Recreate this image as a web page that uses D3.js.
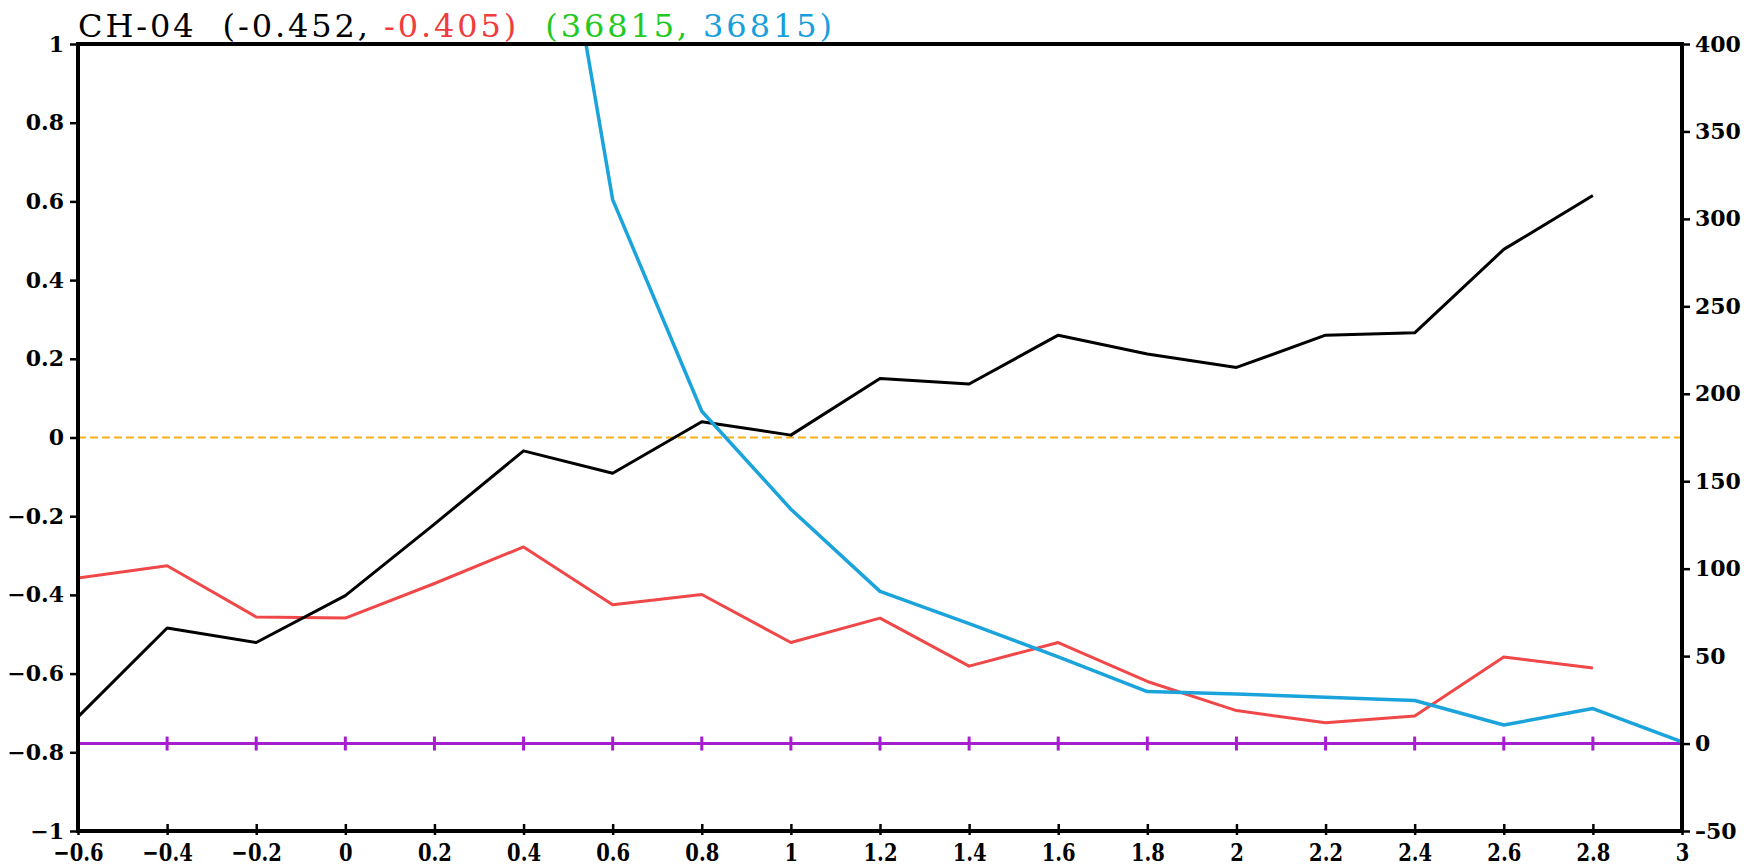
<!DOCTYPE html>
<html>
<head>
<meta charset="utf-8">
<script src="https://cdn.jsdelivr.net/npm/d3@7"></script>
<style>
  html, body { margin: 0; padding: 0; background: #fff; }
  svg { display: block; }
  .tick text { font-family: "DejaVu Serif", serif; font-weight: bold; fill: #000; }
</style>
</head>
<body>
<svg id="chart" width="1744" height="866"></svg>
<script>
// x positions shared by all series
const xValues = [-0.6, -0.4, -0.2, 0, 0.2, 0.4, 0.6, 0.8, 1.0, 1.2, 1.4, 1.6, 1.8, 2.0, 2.2, 2.4, 2.6, 2.8, 3.0];

// correlation series (left axis)
const blackSeries = [-0.71, -0.484, -0.521, -0.402, -0.22, -0.034, -0.091, 0.04, 0.006, 0.15, 0.136, 0.26, 0.212, 0.178, 0.26, 0.266, 0.478, 0.615, null];
const redSeries   = [-0.357, -0.326, -0.456, -0.459, -0.371, -0.278, -0.425, -0.399, -0.521, -0.459, -0.581, -0.521, -0.62, -0.694, -0.725, -0.708, -0.558, -0.586, null];

// sample counts (right axis)
const blueSeries  = [null, null, null, null, null, 608, 311, 190, 134, 87, 68.6, 49.5, 29.7, 28.4, 26.5, 24.6, 10.6, 20, 1];

// axis ticks
const xTicks = [-0.6, -0.4, -0.2, 0, 0.2, 0.4, 0.6, 0.8, 1, 1.2, 1.4, 1.6, 1.8, 2, 2.2, 2.4, 2.6, 2.8, 3];
const leftTicks = [-1, -0.8, -0.6, -0.4, -0.2, 0, 0.2, 0.4, 0.6, 0.8, 1];
const rightTicks = [-50, 0, 50, 100, 150, 200, 250, 300, 350, 400];

// title pieces
const titleParts = [
  { text: "CH-04  (-0.452, ", color: "#000000" },
  { text: "-0.405)", color: "#f03c3c" },
  { text: "  (36815, ", color: "#22c922" },
  { text: "36815)", color: "#1a9fdc" }
];

const svg = d3.select("#chart");
const plot = { left: 78, right: 1682, top: 44, bottom: 831 };

const x = d3.scaleLinear().domain([-0.6, 3]).range([plot.left, plot.right]);
const yL = d3.scaleLinear().domain([-1, 1]).range([plot.bottom, plot.top]);
const yR = d3.scaleLinear().domain([-50, 400]).range([plot.bottom, plot.top]);

svg.append("defs").append("clipPath").attr("id", "plotClip")
  .append("rect")
  .attr("x", plot.left).attr("y", plot.top)
  .attr("width", plot.right - plot.left).attr("height", plot.bottom - plot.top);

const g = svg.append("g").attr("clip-path", "url(#plotClip)");

// zero reference line on the left axis
g.append("line")
  .attr("x1", x(-0.6)).attr("x2", x(3))
  .attr("y1", yL(0)).attr("y2", yL(0))
  .attr("stroke", "#f2b21b").attr("stroke-width", 2)
  .attr("stroke-dasharray", "8,4");

// zero line on the right axis with cross markers
g.append("line")
  .attr("x1", x(-0.6)).attr("x2", x(3))
  .attr("y1", yR(0)).attr("y2", yR(0))
  .attr("stroke", "#a61fcf").attr("stroke-width", 3);
g.selectAll(".cross").data(xValues).enter().append("line")
  .attr("x1", d => x(d)).attr("x2", d => x(d))
  .attr("y1", yR(0) - 7).attr("y2", yR(0) + 7)
  .attr("stroke", "#a61fcf").attr("stroke-width", 3);

function drawSeries(values, yScale, color, width) {
  const pts = xValues.map((xv, i) => [xv, values[i]]);
  const line = d3.line()
    .defined(d => d[1] !== null)
    .x(d => x(d[0]))
    .y(d => yScale(d[1]));
  g.append("path")
    .datum(pts)
    .attr("fill", "none")
    .attr("stroke", color)
    .attr("stroke-width", width)
    .attr("stroke-linejoin", "round")
    .attr("d", line);
}

drawSeries(redSeries, yL, "#f04848", 3);
drawSeries(blackSeries, yL, "#000000", 3);
drawSeries(blueSeries, yR, "#1ba3dc", 3.5);

// axes
const minusFmt = d => String(d).replace("-", "\u2212");
const axisLeft = d3.axisLeft(yL).tickValues(leftTicks).tickFormat(minusFmt).tickSize(8).tickPadding(6);
const axisRight = d3.axisRight(yR).tickValues(rightTicks).tickFormat(d => String(d).replace("-", "\u2013")).tickSize(8).tickPadding(5);
const axisBottom = d3.axisBottom(x).tickValues(xTicks).tickFormat(minusFmt).tickSize(-7).tickPadding(12);

function styleAxis(sel, fs) {
  sel.select(".domain").remove();
  sel.selectAll(".tick line").attr("stroke", "#000").attr("stroke-width", 2.5);
  sel.selectAll(".tick text").attr("font-size", fs);
}

const gl = svg.append("g").attr("transform", `translate(${plot.left},0)`).call(axisLeft);
styleAxis(gl, 22);
const gr = svg.append("g").attr("transform", `translate(${plot.right},0)`).call(axisRight);
styleAxis(gr, 22);
const gb = svg.append("g").attr("transform", `translate(0,${plot.bottom})`).call(axisBottom);
styleAxis(gb, 25);
// narrow, tall digits on the bottom axis
gb.selectAll(".tick text")
  .attr("x", 0)
  .attr("y", 12)
  .attr("dy", "0.71em")
  .attr("transform", "scale(0.78,1)");
// short ticks below the frame on the bottom axis
gb.selectAll(".tick").append("line")
  .attr("y1", 0).attr("y2", 4)
  .attr("stroke", "#000").attr("stroke-width", 2.5);

// frame
svg.append("rect")
  .attr("x", plot.left).attr("y", plot.top)
  .attr("width", plot.right - plot.left).attr("height", plot.bottom - plot.top)
  .attr("fill", "none").attr("stroke", "#000").attr("stroke-width", 4);

// title, spread to run from the left frame edge to x = 832
const title = svg.append("text")
  .attr("x", plot.left).attr("y", 37)
  .attr("font-family", "'DejaVu Serif', serif")
  .attr("font-size", 32)
  .style("white-space", "pre");
titleParts.forEach(p => {
  title.append("tspan").attr("fill", p.color).text(p.text);
});
const fullText = titleParts.map(p => p.text).join("");
const natural = title.node().getComputedTextLength();
const targetWidth = 832 - plot.left;
const spacing = (targetWidth - natural) / (fullText.length - 1);
title.attr("letter-spacing", spacing.toFixed(2));
</script>
</body>
</html>
